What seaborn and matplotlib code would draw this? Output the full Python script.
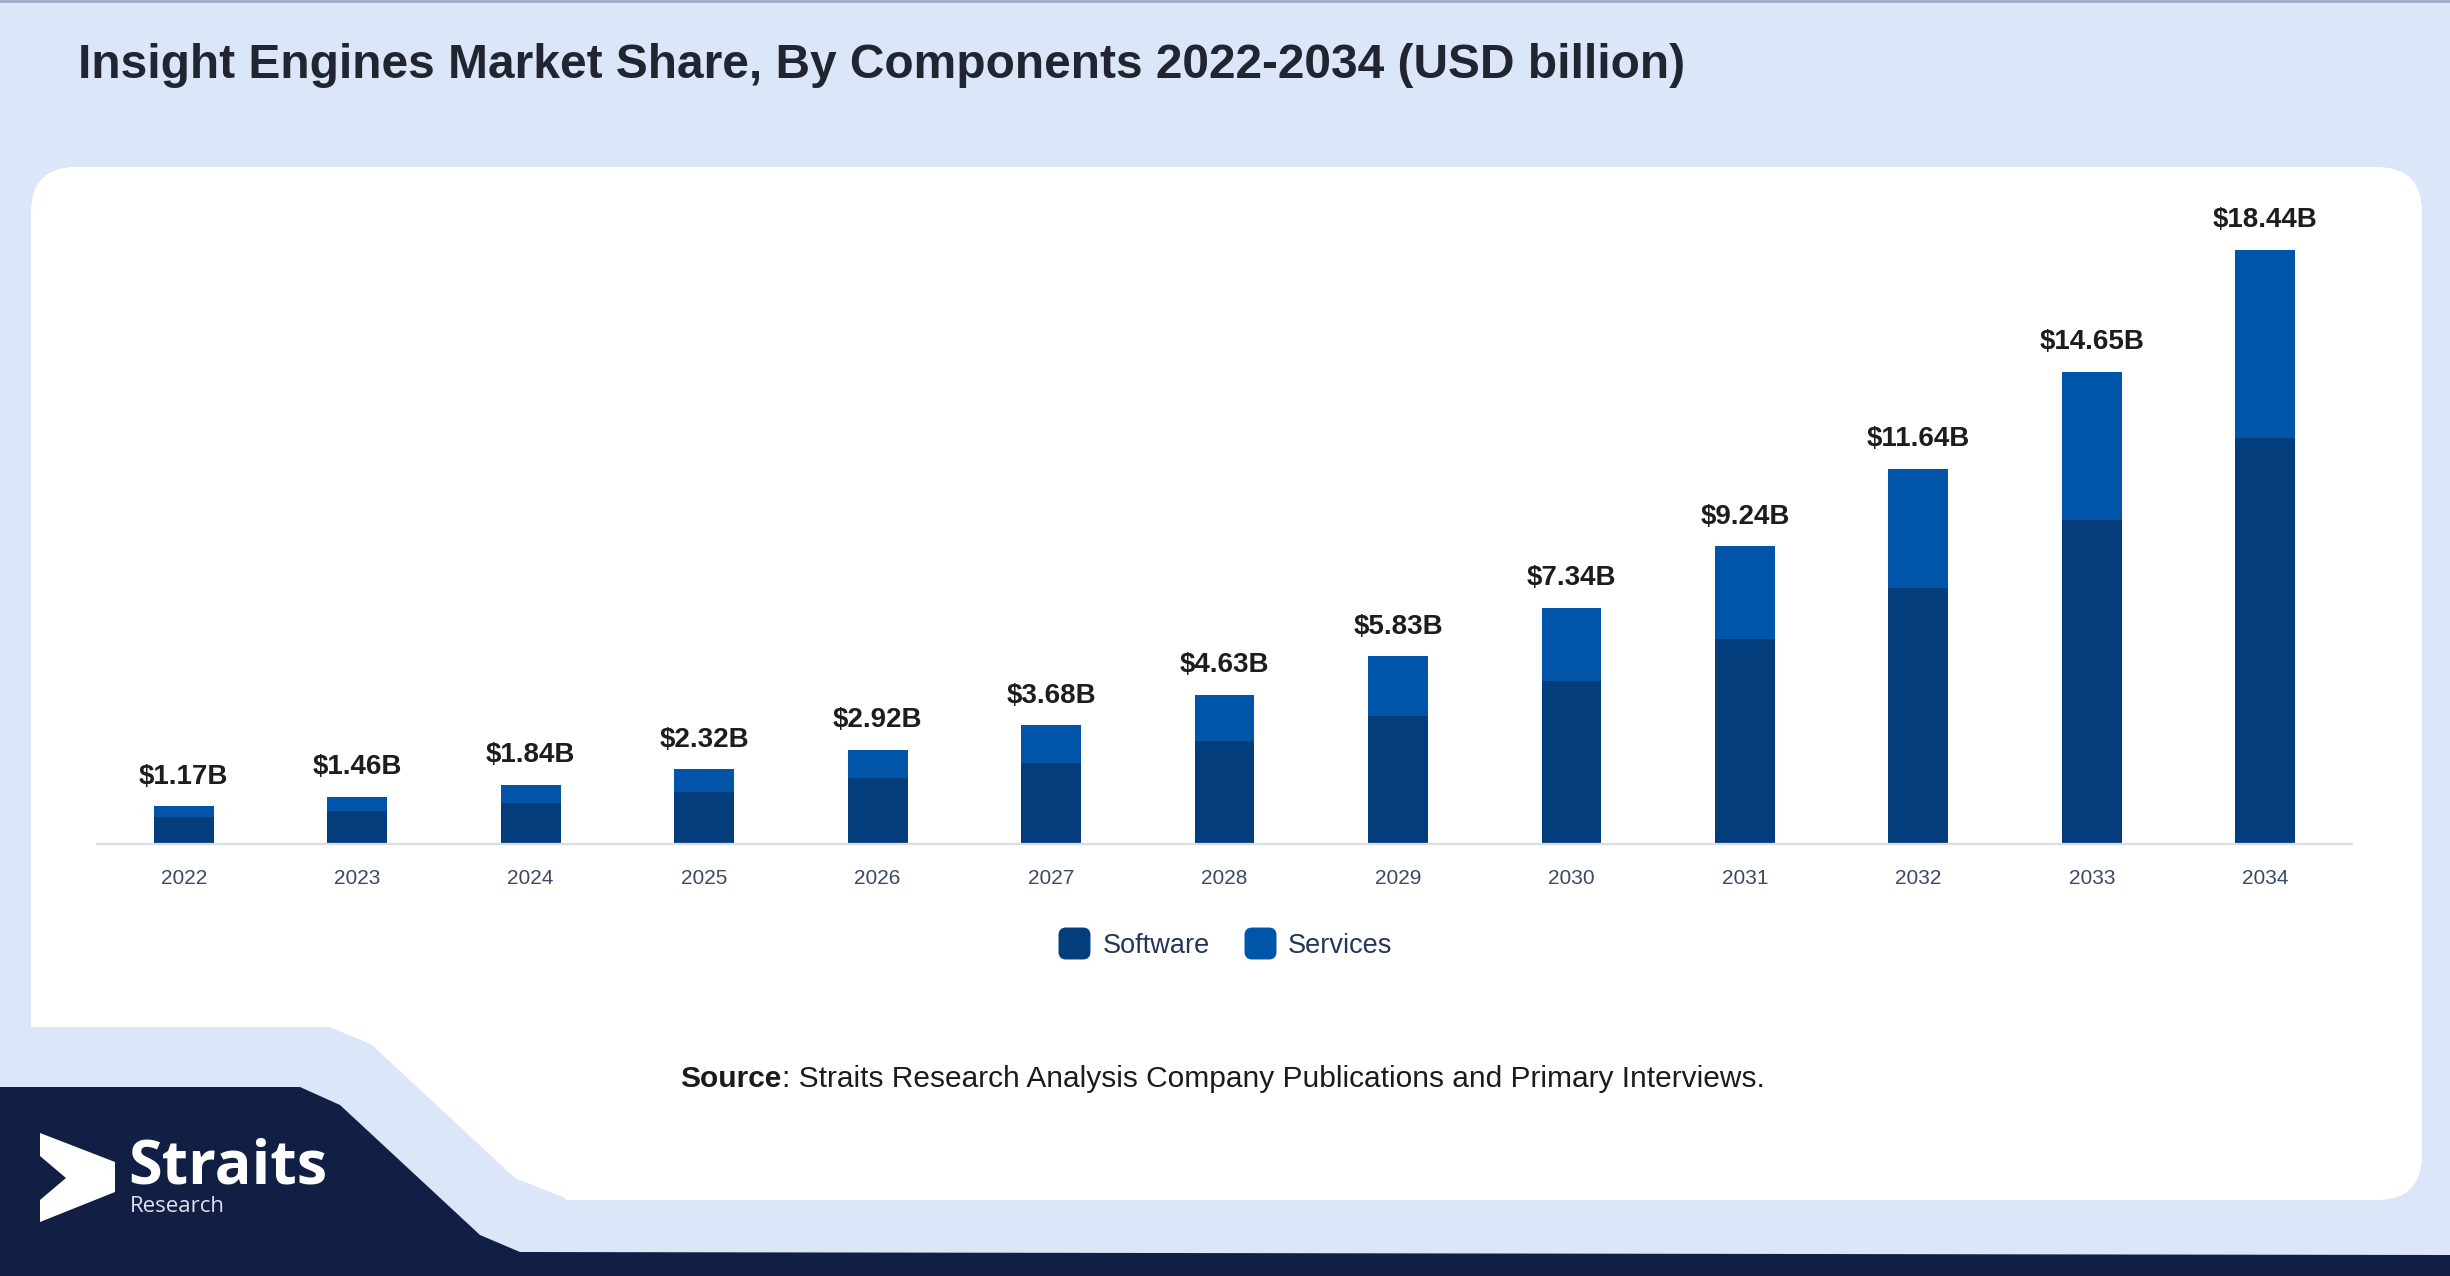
import numpy as np
import pandas as pd
import seaborn as sns
import matplotlib.pyplot as plt
from matplotlib.patches import Polygon, FancyBboxPatch
from matplotlib.lines import Line2D
from matplotlib.path import Path

# data (USD billion)
years = ['2022', '2023', '2024', '2025', '2026', '2027', '2028',
         '2029', '2030', '2031', '2032', '2033', '2034']
totals = [1.17, 1.46, 1.84, 2.32, 2.92, 3.68, 4.63, 5.83, 7.34, 9.24, 11.64, 14.65, 18.44]
software = [0.83, 1.02, 1.26, 1.60, 2.04, 2.52, 3.20, 3.98, 5.05, 6.36, 7.96, 10.05, 12.62]
labels = ['$1.17B', '$1.46B', '$1.84B', '$2.32B', '$2.92B', '$3.68B', '$4.63B',
          '$5.83B', '$7.34B', '$9.24B', '$11.64B', '$14.65B', '$18.44B']

df = pd.DataFrame({'year': years, 'total': totals, 'software': software})

c_soft = '#033d7b'
c_serv = '#0055a9'
c_bg = '#dbe7f8'
c_navy = '#121f45'

sns.set_theme(style='white')
plt.rcParams['font.family'] = ['Liberation Sans', 'DejaVu Sans']

W, H = 2450, 1276
fig = plt.figure(figsize=(W / 100, H / 100), dpi=100)
fig.patch.set_facecolor(c_bg)

# background layer in pixel coordinates
bg = fig.add_axes([0, 0, 1, 1])
bg.set_xlim(0, W)
bg.set_ylim(H, 0)
bg.axis('off')

# white card, then cut the stepped lower-left corner out of it
card = FancyBboxPatch((31, 167), 2391, 1033,
                      boxstyle='round,pad=0,rounding_size=45',
                      facecolor='white', edgecolor='none')
bg.add_patch(card)
cut = Polygon([(0, 1027), (330, 1027), (372, 1045), (515, 1178), (565, 1198),
               (565, 1215), (0, 1215)],
              closed=True, facecolor=c_bg, edgecolor='none')
bg.add_patch(cut)

# navy footer shape
navy = Polygon([(0, 1087), (300, 1087), (340, 1105), (480, 1235), (520, 1252),
                (W, 1255), (W, H), (0, H)],
               closed=True, facecolor=c_navy, edgecolor='none')
bg.add_patch(navy)
bg.axhline(1, color='#9aaacb', lw=2)

# logo
arrow = Polygon([(40, 1133), (115, 1162), (115, 1192), (40, 1222),
                 (40, 1200), (66, 1178), (40, 1156)],
                closed=True, facecolor='white', edgecolor='none')
bg.add_patch(arrow)
bg.text(128, 1168, 'Straits', color='white', fontsize=44, fontweight='bold',
        family='Open Sans', va='center', ha='left')
bg.text(130, 1206, 'Research', color='#dfe3ec', fontsize=16,
        family='Open Sans', va='center', ha='left')

# chart
ax = fig.add_axes([0.0396, 0.3386, 0.9204, 0.5149])
ax.set_facecolor('none')
sns.barplot(data=df, x='year', y='total', color=c_serv, width=0.345,
            saturation=1, linewidth=0, ax=ax)
sns.barplot(data=df, x='year', y='software', color=c_soft, width=0.345,
            saturation=1, linewidth=0, ax=ax)

for i, t in enumerate(totals):
    ax.annotate(labels[i], (i, t), xytext=(0, 12), textcoords='offset points',
                ha='center', va='bottom', fontsize=20, fontweight='bold',
                color='#1d1d1d')

ax.set_ylim(0, 20.4)
ax.set_xlim(-0.5, 12.5)
ax.set_xlabel('')
ax.set_ylabel('')
ax.set_yticks([])
sns.despine(ax=ax, left=True, right=True, top=True)
ax.spines['bottom'].set_color('#dcdde0')
ax.spines['bottom'].set_linewidth(1.6)
ax.tick_params(axis='x', length=0, pad=18, labelsize=15, labelcolor='#3b4866')

# legend with rounded square markers
rbox = FancyBboxPatch((-1, -1), 2, 2, boxstyle='round,pad=0,rounding_size=0.45')
rmark = Path(rbox.get_path().vertices, rbox.get_path().codes)
handles = [Line2D([], [], marker=rmark, ls='', markersize=22, color=c_soft),
           Line2D([], [], marker=rmark, ls='', markersize=22, color=c_serv)]
fig.legend(handles, ['Software', 'Services'], loc='center',
           bbox_to_anchor=(0.4995, 0.259), ncol=2, frameon=False,
           fontsize=19.5, labelcolor='#243559', handlelength=1.4,
           handletextpad=0.35, columnspacing=1.15)

# title and source
fig.text(0.032, 0.949, 'Insight Engines Market Share, By Components 2022-2034 (USD billion)',
         fontsize=34.5, fontweight='bold', color='#212530', ha='left', va='center')
fig.text(0.319, 0.1545, 'Source', fontsize=21.5, fontweight='bold',
         color='#1b1b1b', ha='right', va='center')
fig.text(0.319, 0.1545, ': Straits Research Analysis Company Publications and Primary Interviews.',
         fontsize=21.5, color='#1b1b1b', ha='left', va='center')

fig.savefig('out.png', dpi=100, facecolor=fig.get_facecolor())
